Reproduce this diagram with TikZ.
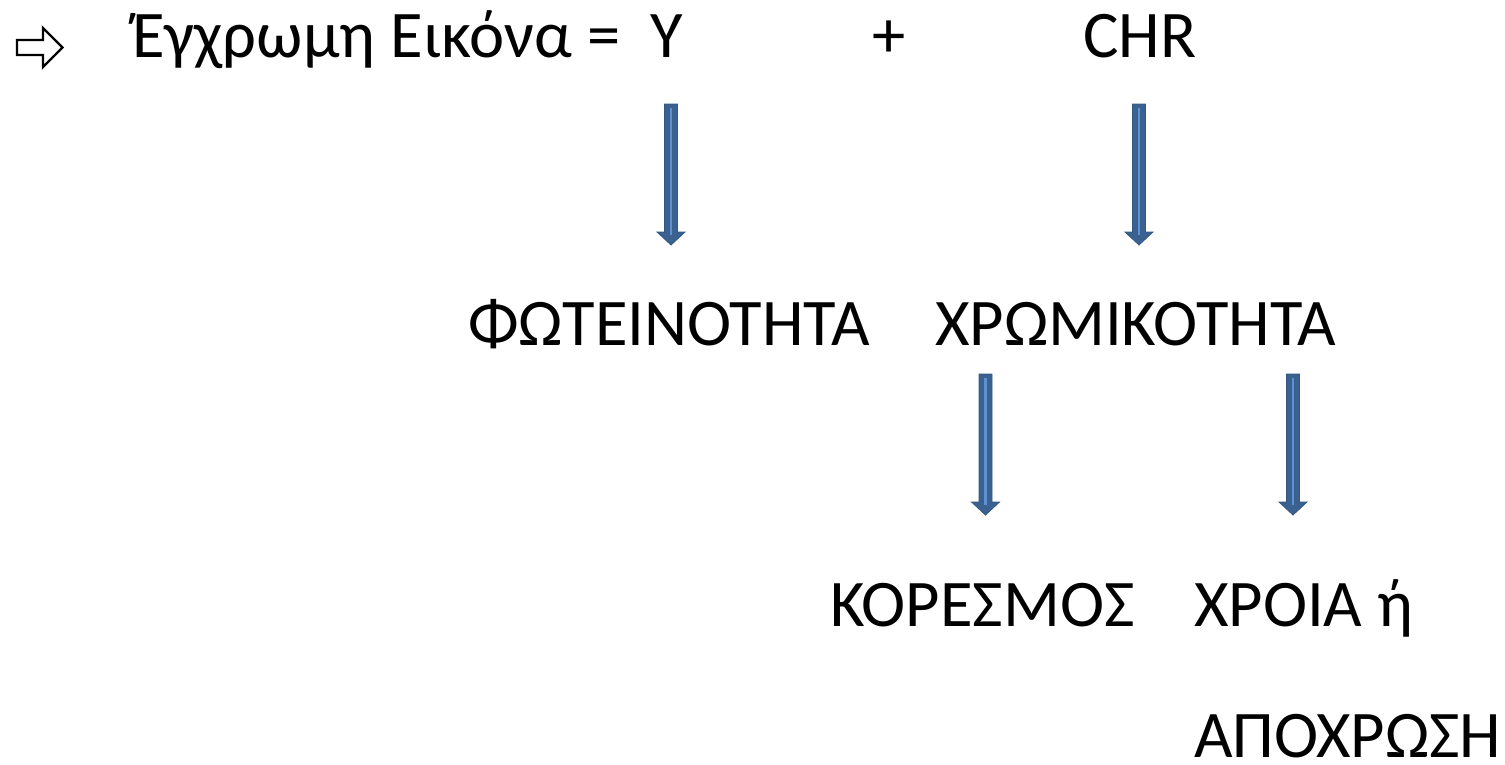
\documentclass[tikz,border=0pt]{standalone}
\usepackage{fontspec}
\setmainfont{Carlito}
\definecolor{arrowfill}{HTML}{3B6190}
\definecolor{arrowedge}{HTML}{345884}
\definecolor{arrowlight}{HTML}{5E91D1}
\tikzset{
  label/.style={anchor=base west, inner sep=0pt, outer sep=0pt,
    font=\fontsize{66.6}{80}\selectfont},
  blockfill/.style={fill=arrowfill, draw=arrowedge, line width=0.8pt, line join=miter},
  blockshine/.style={draw=arrowlight, line width=2.2pt},
}
% downward block arrow between two named coordinates (top of shaft, tip)
\newcommand\blockdown[2]{%
  \path (#1) coordinate (bt) (#2) coordinate (bb);
  \fill[blockfill] ([xshift=-6.5pt]bt) -- ([xshift=6.5pt]bt)
    -- ([xshift=6.5pt,yshift=13pt]bb) -- ([xshift=14pt,yshift=13pt]bb)
    -- (bb) -- ([xshift=-14pt,yshift=13pt]bb)
    -- ([xshift=-6.5pt,yshift=13pt]bb) -- cycle;
  \draw[blockshine] ([yshift=-4pt]bt) -- ([yshift=10pt]bb);
}
\begin{document}
\begin{tikzpicture}[x=1pt,y=-1pt]
  \useasboundingbox (0,0) rectangle (1505,764);

  % outlined bullet arrow
  \coordinate (bullet) at (17,32.5);
  \draw[line width=2.4pt, fill=white, line join=miter]
    ([yshift=-7.5pt]bullet) -- ++(26,0) -- ++(0,-12) -- ++(19.5,19.5)
    -- ++(-19.5,19.5) -- ++(0,-12) -- ++(-26,0) -- cycle;

  % first row
  \node[label] (eq)  at (132,57) {Έγχρωμη Εικόνα =\ \ Y};
  \node[label] (plus) at (872,57) {+};
  \node[label] (chr) at (1083,57) {CHR};

  % second row
  \node[label] (lum) at (468,345) {ΦΩΤΕΙΝΟΤΗΤΑ};
  \node[label] (chrom) at (935,345) {ΧΡΩΜΙΚΟΤΗΤΑ};

  % third and fourth rows
  \node[label] (sat) at (830,626) {ΚΟΡΕΣΜΟΣ};
  \node[label] (hue) at (1194,626) {ΧΡΟΙΑ ή};
  \node[label, text depth=0pt] (hue2) at (1194,757) {ΑΠΟΧΡΩΣΗ};

  % arrow end points
  \coordinate (a1t) at (671,104);  \coordinate (a1b) at (671,245);
  \coordinate (a2t) at (1139,104); \coordinate (a2b) at (1139,245);
  \coordinate (a3t) at (985.5,374); \coordinate (a3b) at (985.5,515);
  \coordinate (a4t) at (1293,374); \coordinate (a4b) at (1293,515);

  \blockdown{a1t}{a1b}
  \blockdown{a2t}{a2b}
  \blockdown{a3t}{a3b}
  \blockdown{a4t}{a4b}
\end{tikzpicture}
\end{document}
